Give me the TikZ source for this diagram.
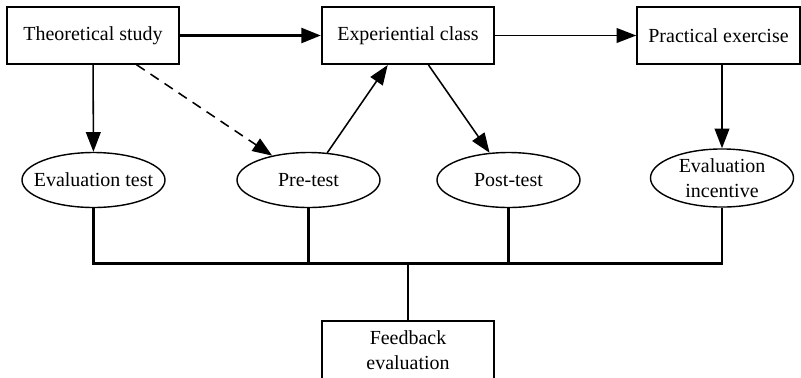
\documentclass[tikz,border=0pt]{standalone}
\usepackage{fontspec}
\setmainfont{Liberation Serif}
\usepackage{tikz}
\usetikzlibrary{shapes.geometric,arrows.meta}

\begin{document}
\begin{tikzpicture}[x=0.025cm, y=-0.025cm]
\useasboundingbox (0,0) rectangle (801,377);
\clip (0,0) rectangle (801,377);
\tikzstyle{every node} = [font=\rmfamily\fontsize{14.2}{17.8}\selectfont, align=center]
\tikzstyle{box} = [draw, line width=1pt, rectangle, inner sep=0pt, minimum height=40.5pt]
\tikzstyle{oval} = [draw, line width=1pt, ellipse, inner xsep=-8pt, inner ysep=0pt, minimum width=101.7pt, minimum height=39.1pt]
\tikzstyle{arr} = [line width=1.1pt, -{Triangle[length=14pt,width=10.5pt]}]
\node[box, minimum width=122.3pt] (theo) at (93, 35.5) {Theoretical study};
\node[box, minimum width=122.3pt, line width=1.5pt] (exp) at (408, 35.5) {Experiential class};
\node[box, minimum width=116pt] (prac) at (718.5, 35.5) {Practical exercise};
\node[oval] (evtest) at (93.5, 180) {Evaluation test};
\node[oval] (pre) at (308.5, 180) {Pre-test};
\node[oval] (post) at (508.5, 180) {Post-test};
\node[oval, minimum height=41.3pt] (inc) at (722, 178) {Evaluation\\incentive};
\node[box, minimum width=122.3pt, minimum height=41.3pt] (fb) at (408, 350) {Feedback\\evaluation};
\coordinate (bus) at (408, 263.5);

% arrows
\draw [arr, line width=2.3pt] (theo) -- (exp);
\draw [arr] (exp) -- (prac);
\draw [arr] (theo) -- (evtest);
\draw [arr, dash pattern=on 7pt off 5pt] (theo) -- (pre);
\foreach \from/\to in {pre/exp, exp/post}
\draw [arr] (\from) -- (\to);
\draw [arr] (prac.south -| inc.north) -- (inc.north);

% feedback lines
\draw [line width=1.5pt] (evtest.south) -- (evtest.south |- bus) -- (inc.south |- bus) -- (inc.south);
\foreach \n in {pre, post}
\draw [line width=1.5pt] (\n.south) -- (\n.south |- bus);
\draw [line width=1.5pt] (bus) -- (fb.north);
\end{tikzpicture}
\end{document}
